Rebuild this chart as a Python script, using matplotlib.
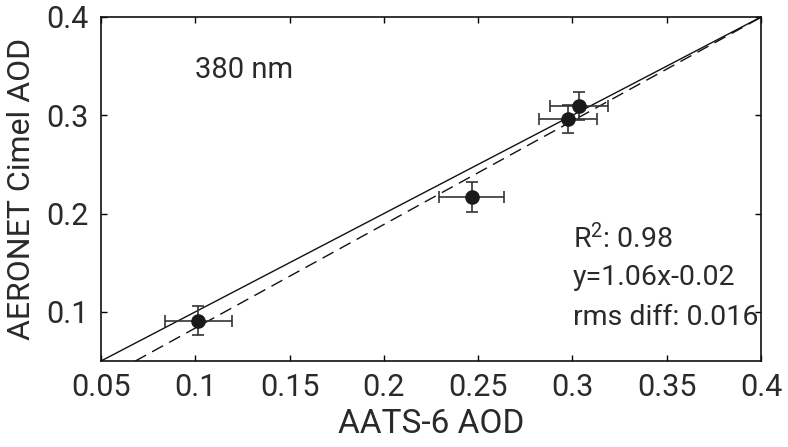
import matplotlib
matplotlib.use("Agg")
import matplotlib.pyplot as plt
import numpy as np

# Data
aats_aod = [0.1016, 0.2466, 0.2975, 0.3034]
cimel_aod = [0.091, 0.2168, 0.2959, 0.3094]
aats_err = [0.0177, 0.0172, 0.0153, 0.0154]
cimel_err = [0.0146, 0.0149, 0.0144, 0.0140]
fit_slope = 1.054
fit_intercept = -0.0219
x_ticks = [0.05, 0.1, 0.15, 0.2, 0.25, 0.3, 0.35, 0.4]
x_tick_labels = ["0.05", "0.1", "0.15", "0.2", "0.25", "0.3", "0.35", "0.4"]
y_ticks = [0.1, 0.2, 0.3, 0.4]
y_tick_labels = ["0.1", "0.2", "0.3", "0.4"]
wavelength_label = "380 nm"
stats_lines = ["R$^{2}$: 0.98", "y=1.06x-0.02", "rms diff: 0.016"]

plt.rcParams['font.family'] = ['Roboto', 'DejaVu Sans']
plt.rcParams['mathtext.default'] = 'regular'

fig = plt.figure(figsize=(7.88, 4.47), dpi=100)
ax = fig.add_axes([101/788, 1 - 361/447, 660/788, 344/447])

txt_color = '#2a2a2a'
lim = [0.05, 0.4]
ax.plot(lim, lim, color='#111111', lw=1.0)
xf = np.array(lim)
ax.plot(xf, fit_slope * xf + fit_intercept, color='#111111', lw=1.0, dashes=(9, 5))

ax.errorbar(aats_aod, cimel_aod, xerr=aats_err, yerr=cimel_err, fmt='o',
            color='#1a1a1a', ecolor='#333333', elinewidth=1.2, capsize=4,
            capthick=1.2, markersize=9.5, zorder=5)

ax.set_xlim(lim)
ax.set_ylim(lim)
ax.set_xticks(x_ticks)
ax.set_xticklabels(x_tick_labels)
ax.set_yticks(y_ticks)
ax.set_yticklabels(y_tick_labels)
ax.tick_params(direction='in', length=4.5, width=1.0, top=True, right=True,
               labelsize=22, labelcolor=txt_color, pad=9)
for s in ax.spines.values():
    s.set_linewidth(1.2)
    s.set_color('#111111')

ax.set_xlabel("AATS-6 AOD", fontsize=24, color=txt_color, labelpad=4)
ax.set_ylabel("AERONET Cimel AOD", fontsize=23, color=txt_color, labelpad=7)

ax.text(0.1, 0.338, wavelength_label, fontsize=21, color=txt_color, va='baseline', ha='left')
for s, yb in zip(stats_lines, [0.165, 0.1273, 0.0866]):
    ax.text(0.3003, yb, s, fontsize=20.5, color=txt_color, va='baseline', ha='left')

fig.savefig("out.png", dpi=100)
